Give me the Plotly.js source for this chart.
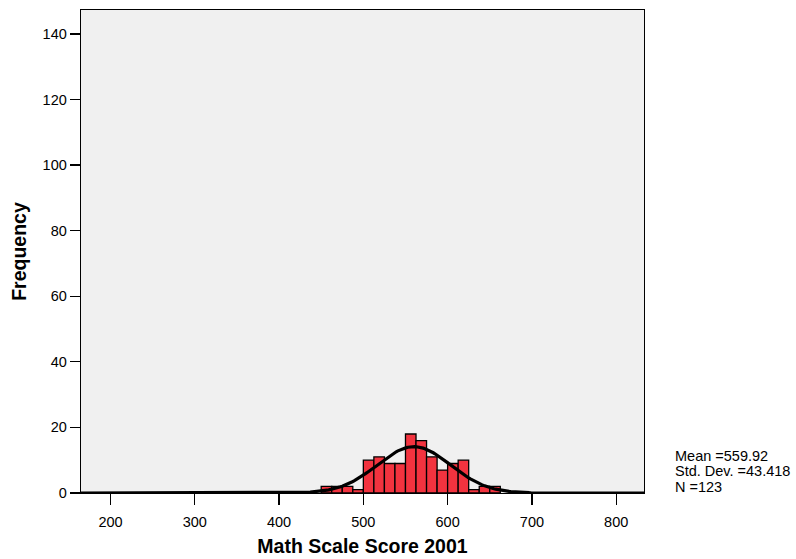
<!DOCTYPE html>
<html>
<head>
<meta charset="utf-8">
<script src="https://cdn.plot.ly/plotly-3.0.1.min.js"></script>
<style>html,body{margin:0;padding:0;background:#fff;}#chart{width:796px;height:559px;}</style>
</head>
<body>
<div id="chart"></div>
<script>
// Histogram bins (lower edges) and frequencies
const binStarts = [450, 462.5, 475, 487.5, 500, 512.5, 525, 537.5, 550, 562.5, 575, 587.5, 600, 612.5, 625, 637.5, 650];
const counts    = [2,   2,     2,   1,     10,  11,    9,   9,     18,  16,    11,  7,     9,   10,    1,   2,     2];
const binWidth = 12.5;
// Summary statistics shown on the chart
const meanVal = 559.92;
const sdVal = 43.418;
const nVal = 123;
const xTicks = [200, 300, 400, 500, 600, 700, 800];
const yTicks = [0, 20, 40, 60, 80, 100, 120, 140];
const statLines = ['Mean =' + meanVal.toFixed(2), 'Std. Dev. =' + sdVal.toFixed(3), 'N =' + nVal];

const centers = binStarts.map(s => s + binWidth / 2);

// Fitted normal curve from the reported mean / std. dev. / N
const curveX = [];
const curveY = [];
for (let x = 165; x <= 833; x += 2) {
  curveX.push(x);
  const z = (x - meanVal) / sdVal;
  curveY.push(nVal * binWidth / (sdVal * Math.sqrt(2 * Math.PI)) * Math.exp(-0.5 * z * z));
}

const font = "Arial, 'Liberation Sans', sans-serif";

const data = [
  {
    type: 'bar',
    x: centers,
    y: counts,
    width: binWidth,
    marker: { color: '#f2333f', line: { color: '#000', width: 1.3 } },
    hoverinfo: 'x+y'
  },
  {
    type: 'scatter',
    mode: 'lines',
    x: curveX,
    y: curveY,
    line: { color: '#000', width: 3.2 },
    hoverinfo: 'skip'
  }
];

const statY = [0.0766, 0.0455, 0.0124];

const layout = {
  width: 796,
  height: 559,
  margin: { l: 81, r: 152, t: 10, b: 66 },
  paper_bgcolor: '#fff',
  plot_bgcolor: '#f0f0f0',
  showlegend: false,
  bargap: 0,
  font: { family: font, size: 14.5, color: '#000' },
  xaxis: {
    range: [165, 833],
    tickvals: xTicks,
    ticktext: xTicks.map(String),
    ticks: 'outside',
    ticklen: 11,
    tickwidth: 1.3,
    tickcolor: '#000',
    ticklabelstandoff: 4,
    showgrid: false,
    zeroline: false,
    showline: true,
    linecolor: '#000',
    linewidth: 1.3,
    mirror: true,
    tickfont: { family: font, size: 14.5, color: '#000' },
    title: { text: 'Math Scale Score 2001', font: { family: font, size: 19.5, color: '#000', weight: 'bold' }, standoff: 10 }
  },
  yaxis: {
    range: [0, 147.3],
    tickvals: yTicks,
    ticktext: yTicks.map(String),
    ticks: 'outside',
    ticklen: 10,
    tickwidth: 1.3,
    tickcolor: '#000',
    showgrid: false,
    zeroline: false,
    showline: true,
    linecolor: '#000',
    linewidth: 1.3,
    mirror: true,
    tickfont: { family: font, size: 14.5, color: '#000' },
    title: { text: 'Frequency', font: { family: font, size: 19.5, color: '#000', weight: 'bold' }, standoff: 10 }
  },
  annotations: statLines.map((t, i) => ({
    xref: 'paper', yref: 'paper',
    x: 1.052, y: statY[i],
    xanchor: 'left', yanchor: 'middle',
    align: 'left',
    showarrow: false,
    text: t,
    font: { family: font, size: 14.5, color: '#000' }
  }))
};

Plotly.newPlot('chart', data, layout, { displayModeBar: false, staticPlot: true });
</script>
</body>
</html>
